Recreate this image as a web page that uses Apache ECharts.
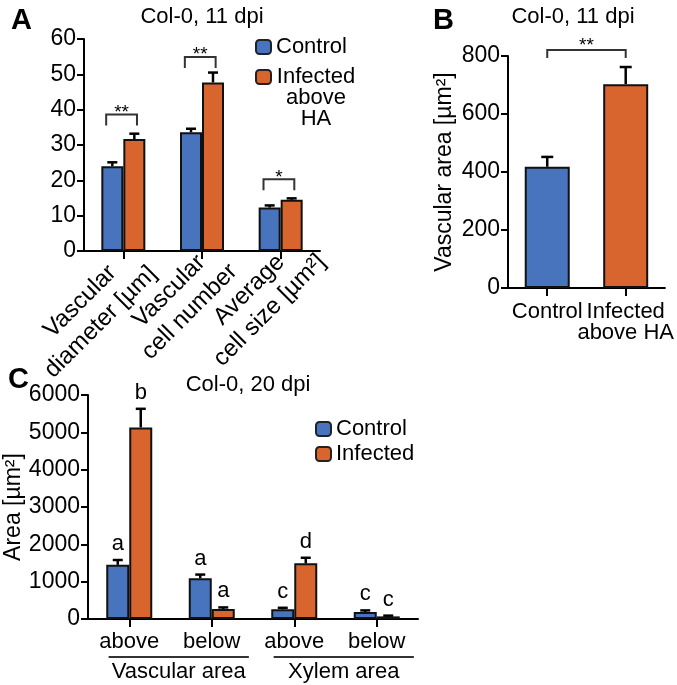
<!DOCTYPE html>
<html><head><meta charset="utf-8">
<script src="https://cdn.jsdelivr.net/npm/echarts@6/dist/echarts.min.js"></script>
<style>html,body{margin:0;padding:0;background:#fff}#c{width:677px;height:685px}</style>
</head><body><div id="c"></div>
<script>
// ---------- Panel A data ----------
const catsA = ['Vascular\ndiameter [µm]', 'Vascular\ncell number', 'Average\ncell size [µm²]'];
const ctrlA = [24.0, 33.6, 12.3];
const ctrlErrA = [1.1, 1.0, 0.6];
const infA = [31.7, 47.7, 14.5];
const infErrA = [1.5, 2.8, 0.4];
const sigA = ['**', '**', '*'];
const sigLevelA = [38.6, 54.9, 20.3];
const ticksA = [0, 10, 20, 30, 40, 50, 60];

// ---------- Panel B data ----------
const catsB = ['Control', 'Infected\nabove HA'];
const valsB = [418, 703];
const errB = [34, 59];
const sigB = ['**'];
const sigLevelB = [821];
const ticksB = [0, 200, 400, 600, 800];

// ---------- Panel C data ----------
const catsC = ['above', 'below', 'above', 'below'];
const groupsC = ['Vascular area', 'Xylem area'];
const groupSpanC = [[0, 1], [2, 3]];
const ctrlC = [1450, 1090, 260, 190];
const ctrlErrC = [130, 100, 40, 40];
const infC = [5130, 270, 1490, 70];
const infErrC = [500, 40, 150, 20];
const lettersCtrlC = ['a', 'a', 'c', 'c'];
const lettersInfC = ['b', 'a', 'd', 'c'];
const ticksC = [0, 1000, 2000, 3000, 4000, 5000, 6000];

// ---------- styling ----------
const FONT = '"Liberation Sans", Arial, Helvetica, sans-serif';
const BLUE = '#4873bd';
const ORANGE = '#d8652e';
const BW_A = 22, BW_B = 45, BW_C = 23;
const ROT_W = [93, 64, 60];

const chart = echarts.init(document.getElementById('c'), null, {renderer: 'canvas'});

function yAxisFor(gi, ticks, fs, name, nameGap) {
  return {
    type: 'value', gridIndex: gi,
    min: ticks[0], max: ticks[ticks.length - 1], interval: ticks[1] - ticks[0],
    splitLine: {show: false},
    axisLine: {show: true, lineStyle: {color: '#000', width: 2}},
    axisTick: {show: true, length: 7, lineStyle: {color: '#000', width: 2}},
    axisLabel: {color: '#000', fontSize: fs, fontFamily: FONT, margin: 8, formatter: v => String(v)},
    name: name || '', nameLocation: 'middle', nameGap: nameGap || 0,
    nameTextStyle: {color: '#000', fontSize: 23, fontFamily: FONT}
  };
}

function xAxisFor(gi, cats, labelOpt) {
  return Object.assign({
    type: 'category', gridIndex: gi, data: cats,
    axisLine: {show: true, lineStyle: {color: '#000', width: 2}},
    axisTick: {show: true, alignWithLabel: true, length: 8, lineStyle: {color: '#000', width: 2}},
    axisLabel: {color: '#000', fontSize: 22, fontFamily: FONT, interval: 0}
  }, labelOpt || {});
}

function errSeries(xi, yi, means, errs, off, capW, letters) {
  return {
    type: 'custom', xAxisIndex: xi, yAxisIndex: yi, clip: false, z: 5, silent: true,
    data: means.map((m, i) => [i, m, errs[i]]),
    encode: {x: 0, y: 1},
    renderItem(params, api) {
      const i = api.value(0), m = api.value(1), e = api.value(2);
      const p0 = api.coord([i, m]);
      const p1 = api.coord([i, m + e]);
      const x = p0[0] + off;
      const ch = [
        {type: 'line', shape: {x1: x, y1: p0[1], x2: x, y2: p1[1]}, style: {stroke: '#000', lineWidth: 2.5}},
        {type: 'line', shape: {x1: x - capW / 2, y1: p1[1], x2: x + capW / 2, y2: p1[1]}, style: {stroke: '#000', lineWidth: 2.5}}
      ];
      if (letters) {
        ch.push({type: 'text', x: x, y: p1[1] - 5,
          style: {text: letters[params.dataIndex], fontSize: 22, fontFamily: FONT, fill: '#000', align: 'center', verticalAlign: 'bottom'}});
      }
      return {type: 'group', children: ch};
    }
  };
}

// bracket within one category (panel A)
function bracketA() {
  return {
    type: 'custom', xAxisIndex: 0, yAxisIndex: 0, clip: false, z: 6, silent: true,
    data: sigLevelA.map((v, i) => [i, v]),
    encode: {x: 0, y: 1},
    renderItem(params, api) {
      const p = api.coord([api.value(0), api.value(1)]);
      const xL = p[0] - 0.78 * BW_A, xR = p[0] + 0.62 * BW_A, y = p[1], d = 11;
      return {type: 'group', children: [
        {type: 'polyline', shape: {points: [[xL, y + d], [xL, y], [xR, y], [xR, y + d]]}, style: {stroke: '#333', lineWidth: 2, fill: null}},
        {type: 'text', x: (xL + xR) / 2, y: y - 2,
          style: {text: sigA[params.dataIndex], fontSize: 19, fontFamily: FONT, fill: '#000', align: 'center', verticalAlign: 'middle'}}
      ]};
    }
  };
}

// bracket across categories (panel B)
function bracketB() {
  return {
    type: 'custom', xAxisIndex: 1, yAxisIndex: 1, clip: false, z: 6, silent: true,
    data: sigLevelB.map((v) => [0, 1, v]),
    encode: {x: [0, 1], y: 2},
    renderItem(params, api) {
      const a = api.coord([api.value(0), api.value(2)]);
      const b = api.coord([api.value(1), api.value(2)]);
      const y = a[1], d = 8;
      return {type: 'group', children: [
        {type: 'polyline', shape: {points: [[a[0], y + d], [a[0], y], [b[0], y], [b[0], y + d]]}, style: {stroke: '#333', lineWidth: 2, fill: null}},
        {type: 'text', x: (a[0] + b[0]) / 2, y: y - 4,
          style: {text: sigB[params.dataIndex], fontSize: 19, fontFamily: FONT, fill: '#000', align: 'center', verticalAlign: 'middle'}}
      ]};
    }
  };
}

// group underline labels (panel C)
function groupC() {
  return {
    type: 'custom', xAxisIndex: 2, yAxisIndex: 2, clip: false, z: 6, silent: true,
    data: groupSpanC.map(s => [s[0], s[1], 0]),
    encode: {x: [0, 1], y: 2},
    renderItem(params, api) {
      const band = api.size([1, 0])[0];
      const a = api.coord([api.value(0), 0]);
      const b = api.coord([api.value(1), 0]);
      const x1 = a[0] - 0.25 * band, x2 = b[0] + 0.45 * band;
      const y = a[1] + 38;
      return {type: 'group', children: [
        {type: 'line', shape: {x1: x1, y1: y, x2: x2, y2: y}, style: {stroke: '#333', lineWidth: 2}},
        {type: 'text', x: (x1 + x2) / 2, y: y + 15,
          style: {text: groupsC[params.dataIndex], fontSize: 22, fontFamily: FONT, fill: '#000', align: 'center', verticalAlign: 'middle'}}
      ]};
    }
  };
}

const barItem = (c) => ({color: c, borderColor: '#111', borderWidth: 2});

const rotRich = {};
ROT_W.forEach((w, i) => { rotRich['c' + i] = {width: w, align: 'center', fontSize: 24, fontFamily: FONT, lineHeight: 29}; });
const rotLabel = {
  rotate: 45, margin: 28, interval: 0, color: '#000', fontSize: 24, fontFamily: FONT, lineHeight: 29,
  formatter: (v, idx) => v.split('\n').map(s => '{c' + idx + '|' + s + '}').join('\n'),
  rich: rotRich
};

const option = {
  animation: false,
  backgroundColor: '#fff',
  textStyle: {fontFamily: FONT},
  title: [
    {text: 'A', left: 6, top: 1, textStyle: {fontSize: 29, fontWeight: 'bold', color: '#000', fontFamily: FONT}},
    {text: 'Col-0, 11 dpi', left: 197, top: 1, textAlign: 'center', textStyle: {fontSize: 22, fontWeight: 'normal', color: '#000', fontFamily: FONT}},
    {text: 'B', left: 428, top: 1, textStyle: {fontSize: 29, fontWeight: 'bold', color: '#000', fontFamily: FONT}},
    {text: 'Col-0, 11 dpi', left: 568, top: 1, textAlign: 'center', textStyle: {fontSize: 22, fontWeight: 'normal', color: '#000', fontFamily: FONT}},
    {text: 'C', left: 3, top: 360, textStyle: {fontSize: 29, fontWeight: 'bold', color: '#000', fontFamily: FONT}},
    {text: 'Col-0, 20 dpi', left: 243, top: 369, textAlign: 'center', textStyle: {fontSize: 22, fontWeight: 'normal', color: '#000', fontFamily: FONT}}
  ],
  legend: [
    {
      orient: 'vertical', left: 250, top: 31, itemWidth: 15, itemHeight: 14, itemGap: 8,
      data: ['Control', {name: 'Infected', textStyle: {padding: [42, 0, 0, 0]}}],
      formatter: n => n === 'Infected' ? '{c|Infected}\n{c|above}\n{c|HA}' : n,
      itemStyle: {borderColor: '#222', borderWidth: 2},
      textStyle: {fontSize: 22, fontFamily: FONT, color: '#000', rich: {c: {width: 80, align: 'center', fontSize: 22, lineHeight: 21, fontFamily: FONT}}},
      selectedMode: false
    },
    {
      orient: 'vertical', left: 310, top: 413, itemWidth: 15, itemHeight: 14, itemGap: 3,
      data: ['Control', 'Infected'],
      itemStyle: {borderColor: '#222', borderWidth: 2},
      textStyle: {fontSize: 22, fontFamily: FONT, color: '#000'},
      selectedMode: false
    }
  ],
  grid: [
    {left: 84, top: 39, width: 236, height: 212},
    {left: 508, top: 56, width: 157, height: 232},
    {left: 88, top: 395, width: 330, height: 224}
  ],
  xAxis: [
    xAxisFor(0, catsA, {axisLabel: rotLabel}),
    xAxisFor(1, catsB, {axisLabel: {color: '#000', fontSize: 22, fontFamily: FONT, margin: 13, lineHeight: 21, interval: 0}}),
    xAxisFor(2, catsC, {axisLabel: {color: '#000', fontSize: 22, fontFamily: FONT, margin: 12, interval: 0}})
  ],
  yAxis: [
    yAxisFor(0, ticksA, 23),
    yAxisFor(1, ticksB, 23, 'Vascular area [µm²]', 52),
    yAxisFor(2, ticksC, 23, 'Area [µm²]', 60)
  ],
  series: [
    {name: 'Control', type: 'bar', xAxisIndex: 0, yAxisIndex: 0, data: ctrlA, barWidth: BW_A, barGap: '0%', itemStyle: barItem(BLUE)},
    {name: 'Infected', type: 'bar', xAxisIndex: 0, yAxisIndex: 0, data: infA, barWidth: BW_A, barGap: '0%', itemStyle: barItem(ORANGE)},
    errSeries(0, 0, ctrlA, ctrlErrA, -BW_A / 2, 10),
    errSeries(0, 0, infA, infErrA, BW_A / 2, 10),
    bracketA(),
    {name: 'Panel B', type: 'bar', xAxisIndex: 1, yAxisIndex: 1, barWidth: BW_B,
      data: valsB.map((v, i) => ({value: v, itemStyle: barItem(i === 0 ? BLUE : ORANGE)}))},
    errSeries(1, 1, valsB, errB, 0, 12),
    bracketB(),
    {name: 'Control', type: 'bar', xAxisIndex: 2, yAxisIndex: 2, data: ctrlC, barWidth: BW_C, barGap: '0%', itemStyle: barItem(BLUE)},
    {name: 'Infected', type: 'bar', xAxisIndex: 2, yAxisIndex: 2, data: infC, barWidth: BW_C, barGap: '0%', itemStyle: barItem(ORANGE)},
    errSeries(2, 2, ctrlC, ctrlErrC, -BW_C / 2, 10, lettersCtrlC),
    errSeries(2, 2, infC, infErrC, BW_C / 2, 10, lettersInfC),
    groupC()
  ]
};
chart.setOption(option);
</script>
</body></html>
